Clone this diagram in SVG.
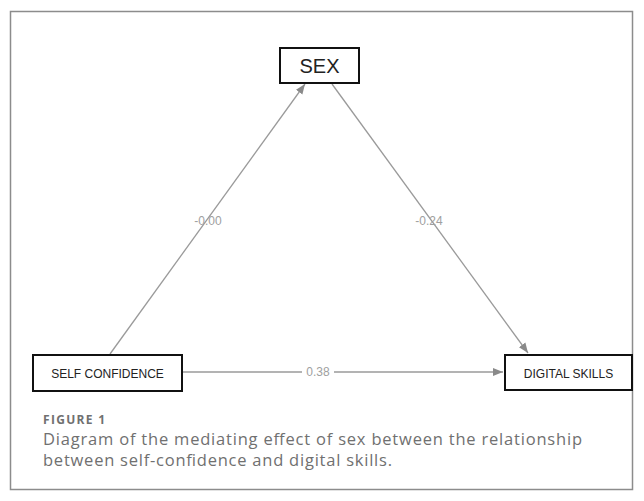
<svg xmlns="http://www.w3.org/2000/svg" width="644" height="501" viewBox="0 0 644 501">
<defs>
<marker id="arr" viewBox="0 0 10 10" refX="10" refY="5" markerWidth="10" markerHeight="10" markerUnits="userSpaceOnUse" orient="auto">
<path d="M0,1 L10,5 L0,9 Z" fill="#8a8a8a"/>
</marker>
<style>
.node{fill:#fff;stroke:#111;stroke-width:2}
.nt{font-family:"Liberation Sans",Arial,sans-serif;fill:#222;text-anchor:middle}
.edge{stroke:#9a9a9a;stroke-width:1.3;fill:none;marker-end:url(#arr)}
.el{font-family:"Liberation Sans",Arial,sans-serif;font-size:12px;fill:#a0a0a0;text-anchor:middle}
.cap{font-family:"Open Sans","Noto Sans",sans-serif;fill:#707070}
</style>
</defs>
<rect x="0" y="0" width="644" height="501" fill="#fff"/>
<rect x="10.5" y="11.5" width="622" height="478" fill="none" stroke="#8c8c8c" stroke-width="1.5"/>
<g id="connectors">
<line class="edge" x1="110" y1="354" x2="305" y2="84"/>
<line class="edge" x1="332" y1="84" x2="528" y2="353"/>
<line class="edge" x1="183" y1="372" x2="503" y2="372"/>
<text class="el" x="208" y="225">-0.00</text>
<text class="el" x="429" y="225">-0.24</text>
<rect x="302" y="365" width="32" height="13" fill="#fff"/>
<text class="el" x="318" y="376">0.38</text>
</g>
<g id="sex">
<rect class="node" x="280" y="48" width="79" height="35" stroke-width="1.5"/>
<text class="nt" x="319.5" y="73" font-size="20">SEX</text>
</g>
<g id="self-confidence">
<rect class="node" x="33" y="355" width="149" height="36"/>
<text class="nt" x="107.5" y="378" font-size="12">SELF CONFIDENCE</text>
</g>
<g id="digital-skills">
<rect class="node" x="505" y="355" width="127" height="35"/>
<text class="nt" x="568.5" y="378" font-size="12">DIGITAL SKILLS</text>
</g>
<g id="caption">
<text class="cap" x="43" y="424" font-size="12" font-weight="bold" fill="#7a7a7a" textLength="62" lengthAdjust="spacing">FIGURE 1</text>
<text class="cap" x="43" y="445" font-size="16.5" textLength="539" lengthAdjust="spacing">Diagram of the mediating effect of sex between the relationship</text>
<text class="cap" x="43" y="466" font-size="16.5" textLength="349" lengthAdjust="spacing">between self-confidence and digital skills.</text>
</g>
</svg>
